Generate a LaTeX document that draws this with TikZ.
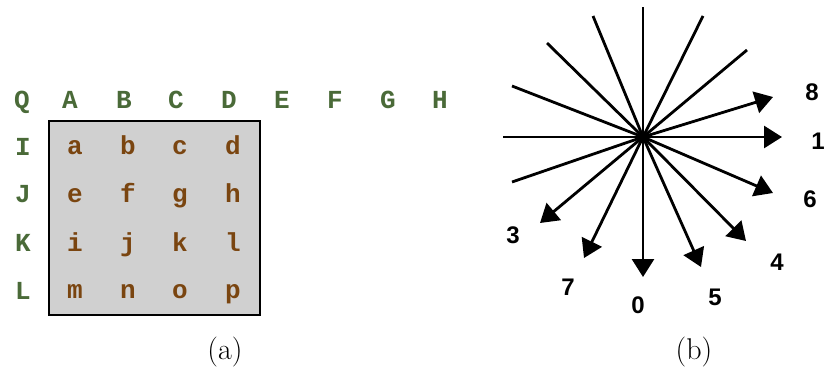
\documentclass[tikz,border=0pt]{standalone}
\usepackage{fontspec}
\newfontfamily\monob{Liberation Mono}[BoldFont=* Bold]
\newfontfamily\sansb{Liberation Sans}
\usetikzlibrary{arrows.meta}
\definecolor{hdr}{HTML}{4A6A38}
\definecolor{cell}{HTML}{7A4510}
\definecolor{boxfill}{HTML}{D0D0D0}
\tikzset{
  hdrlbl/.style={text=hdr, font=\monob\bfseries\fontsize{26}{26}\selectfont, inner sep=0pt, anchor=base},
  celllbl/.style={text=cell, font=\monob\bfseries\fontsize{26}{26}\selectfont, inner sep=0pt, anchor=base},
  numlbl/.style={font=\sansb\bfseries\fontsize{24}{24}\selectfont, inner sep=0pt},
  caplbl/.style={font=\fontsize{30}{30}\selectfont, inner sep=0pt},
  ray/.style={line width=2.8pt},
  arr/.style={line width=2.8pt, -{Triangle[length=18pt,width=22pt]}}
}
\begin{document}
\begin{tikzpicture}[x=1pt,y=-1pt]
\useasboundingbox (0,0) rectangle (826,375);
% grid box
\draw[fill=boxfill, line width=1.4pt] (49,121) rectangle (260,315);
% header row
\node[hdrlbl] (Q) at (22,108) {Q};
\foreach \l/\x in {A/70,B/124,C/176,D/229,E/282,F/335,G/388,H/440}
  \node[hdrlbl] (h\l) at (\x,108) {\l};
\foreach \l/\y in {I/155,J/202.5,K/251.5,L/299}
  \node[hdrlbl] (r\l) at (23,\y) {\l};
% cells
\node[celllbl] (ca) at (75,154.5) {a};
\node[celllbl] (cb) at (128,154.5) {b};
\node[celllbl] (cc) at (180,154.5) {c};
\node[celllbl] (cd) at (233,154.5) {d};
\node[celllbl] (ce) at (75,202) {e};
\node[celllbl] (cf) at (128,202) {f};
\node[celllbl] (cg) at (180,202) {g};
\node[celllbl] (ch) at (233,202) {h};
\node[celllbl] (ci) at (75,251) {i};
\node[celllbl] (cj) at (128,251) {j};
\node[celllbl] (ck) at (180,251) {k};
\node[celllbl] (cl) at (233,251) {l};
\node[celllbl] (cm) at (75,298) {m};
\node[celllbl] (cn) at (128,298) {n};
\node[celllbl] (co) at (180,298) {o};
\node[celllbl] (cp) at (233,298) {p};
\node[caplbl] (capa) at (225,352) {(a)};
\node[caplbl] (capb) at (694,352) {(b)};
% star
\coordinate (O) at (643,137);
\coordinate (u0) at (643,7);
\coordinate (u1) at (503,137);
\coordinate (u2) at (593,16);
\coordinate (u3) at (547,43);
\coordinate (u4) at (512,86);
\coordinate (u5) at (512,182);
\coordinate (u6) at (703,16);
\coordinate (u7) at (747,50);
\foreach \u in {u0,u1,u2,u3,u4,u5,u6,u7} \draw[ray] (O) -- (\u);
\coordinate (t8) at (773,97);
\coordinate (t1) at (782,137);
\coordinate (t6) at (773,193);
\coordinate (t4) at (746,241);
\coordinate (t5) at (701,267);
\coordinate (t0) at (643,277);
\coordinate (t7) at (584,258);
\coordinate (t3) at (540,223);
\foreach \t in {t8,t1,t6,t4,t5,t0,t7,t3} \draw[arr] (O) -- (\t);
\node[numlbl] (n8) at (812,92) {8};
\node[numlbl] (n1) at (818,141) {1};
\node[numlbl] (n6) at (810,199) {6};
\node[numlbl] (n4) at (777,262) {4};
\node[numlbl] (n5) at (715,297) {5};
\node[numlbl] (n0) at (638,305) {0};
\node[numlbl] (n7) at (568,287) {7};
\node[numlbl] (n3) at (513,235) {3};
\end{tikzpicture}
\end{document}
